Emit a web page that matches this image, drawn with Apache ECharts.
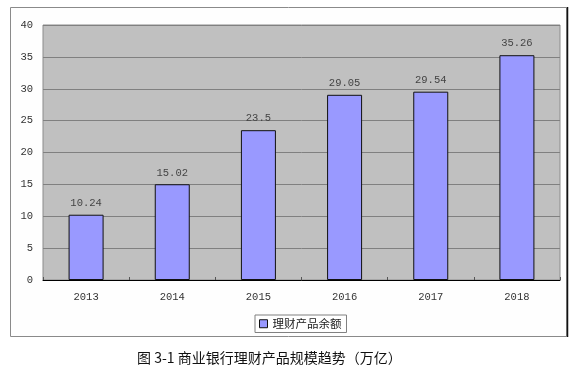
<!DOCTYPE html>
<html>
<head>
<meta charset="utf-8">
<script src="https://cdn.jsdelivr.net/npm/echarts@6/dist/echarts.min.js"></script>
<style>
html,body{margin:0;padding:0;background:#fff;}
#main{width:577px;height:373px;}
</style>
</head>
<body>
<div id="main"></div>
<script>
const categories = ['2013', '2014', '2015', '2016', '2017', '2018'];
const seriesName = '理财产品余额';
const values = [10.24, 15.02, 23.5, 29.05, 29.54, 35.26];
const yTicks = [0, 5, 10, 15, 20, 25, 30, 35, 40];
const captionText = '图 3-1 商业银行理财产品规模趋势（万亿）';

const chart = echarts.init(document.getElementById('main'));
const numFont = '"Liberation Mono", "DejaVu Sans Mono", monospace';
chart.setOption({
  animation: false,
  backgroundColor: '#ffffff',
  graphic: [
    { type: 'rect', z: -10, shape: { x: 10.5, y: 7.5, width: 556, height: 329 },
      style: { fill: '#fefefe', stroke: '#8a8a8a', lineWidth: 1 } },
    { type: 'line', z: -9, shape: { x1: 567.5, y1: 7, x2: 567.5, y2: 337 },
      style: { stroke: '#111', lineWidth: 1.5 } },
    { type: 'text', left: 137, top: 351,
      style: { text: captionText, fill: '#111', font: '14px "Noto Sans CJK SC", sans-serif' } }
  ],
  grid: {
    left: 43, right: 17, top: 25, bottom: 93,
    show: true, backgroundColor: '#c0c0c0', borderColor: '#8c8c8c', borderWidth: 1
  },
  legend: {
    data: [seriesName],
    left: 255, top: 315, width: 92, height: 18,
    padding: [3, 5, 3, 4],
    itemWidth: 8, itemHeight: 8, itemGap: 4,
    backgroundColor: '#ffffff', borderColor: '#808080', borderWidth: 1,
    borderRadius: 0,
    textStyle: { fontSize: 11.5, color: '#222', fontFamily: '"Noto Sans CJK SC", sans-serif' },
    icon: 'rect',
    itemStyle: { borderColor: '#111', borderWidth: 1 }
  },
  xAxis: {
    type: 'category',
    data: categories,
    axisLine: { show: true, lineStyle: { color: '#000', width: 1 } },
    axisTick: { show: true, inside: true, length: 3, lineStyle: { color: '#555' } },
    axisLabel: { color: '#333', fontSize: 10.5, fontFamily: numFont, margin: 12 }
  },
  yAxis: {
    type: 'value',
    min: yTicks[0], max: yTicks[yTicks.length - 1], interval: 5,
    axisLine: { show: false },
    axisTick: { show: false },
    splitLine: { show: true, lineStyle: { color: '#808080', width: 1 } },
    axisLabel: { color: '#333', fontSize: 10.5, fontFamily: numFont, margin: 10 }
  },
  series: [{
    name: seriesName,
    type: 'bar',
    data: values,
    barWidth: 35,
    itemStyle: { color: '#9999ff', borderColor: '#111', borderWidth: 1 },
    label: {
      show: true, position: 'top', distance: 6,
      color: '#444', fontSize: 10.5, fontFamily: numFont
    }
  }]
});
</script>
</body>
</html>
